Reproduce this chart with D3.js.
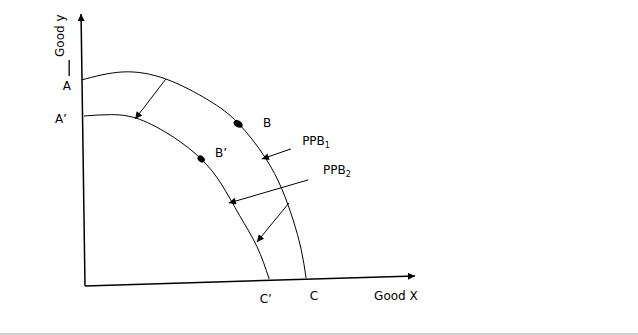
<!DOCTYPE html>
<html>
<head>
<meta charset="utf-8">
<script src="https://cdn.jsdelivr.net/npm/d3@7"></script>
<style>
  html, body { margin: 0; padding: 0; background: #fff; }
  svg { display: block; font-family: "DejaVu Sans", sans-serif; }
</style>
</head>
<body>
<svg id="chart"></svg>
<script>
// production possibility curves, in axis units (0..100 each way)
var ppb1 = [[-1.2,75.7],[11.5,78.7],[24.5,76.1],[37.3,68.4],[46.4,59.9],
            [54.5,47.4],[59.6,35.8],[63.0,24.5],[65.5,13.5],[67.0,2.9]];
var ppb2 = [[-0.3,62.5],[8.0,63.0],[16.5,61.3],[26.7,54.8],[35.2,46.7],[41.3,37.5],
            [46.8,26.0],[52.1,14.5],[55.8,2.6]];

// axes (slightly skewed, as drawn)
var yAxisPts = [[0,0],[-1.2,100]];
var xAxisPts = [[0,0],[100,3.7]];

// shift arrows and label pointers: [from, to]
var arrows = [
  [[24.5,76.1],[15.2,61.4]],
  [[62.4,50.4],[53.6,46.7]],
  [[67.6,39.0],[43.6,30.5]],
  [[61.8,30.5],[52.1,16.2]]
];

// points on the curves
var dots = [
  {name:'B', x:46.4, y:59.6, rx:5, ry:3.3, rot:30},
  {name:'B2', x:35.2, y:46.7, rx:4, ry:3, rot:40}
];

// labels
var labels = [
  {t:'A',      x:-5.5, y:72.1, anchor:'middle'},
  {t:'A\u2019', x:-7.3, y:59.9, anchor:'middle'},
  {t:'B',      x:55.2, y:58.5, anchor:'middle'},
  {t:'B\u2019', x:41.2, y:47.4, anchor:'middle'},
  {t:'C\u2019', x:54.8, y:-6.3, anchor:'middle'},
  {t:'C',      x:69.4, y:-5.1, anchor:'middle'},
  {t:'Good X', x:87.6, y:-5.1, anchor:'start'}
];
var ppbLabels = [
  {t:'PPB', sub:'1', x:65.8, y:51.8},
  {t:'PPB', sub:'2', x:72.1, y:41.2}
];

var W = 638, H = 335;
var svg = d3.select('#chart').attr('width', W).attr('height', H);

var x = d3.scaleLinear().domain([0,100]).range([85,415]);
var y = d3.scaleLinear().domain([0,100]).range([286,14]);

var defs = svg.append('defs');
defs.append('marker').attr('id','head')
  .attr('viewBox','0 0 10 10').attr('refX',10).attr('refY',5)
  .attr('markerWidth',10).attr('markerHeight',7).attr('markerUnits','userSpaceOnUse')
  .attr('orient','auto')
  .append('path').attr('d','M0,0 L10,5 L0,10 z').attr('fill','#000');

// bottom frame edge
svg.append('rect').attr('x',0).attr('y',333).attr('width',W).attr('height',2).attr('fill','#cfcfcf');

var straight = d3.line().x(function(d){return x(d[0]);}).y(function(d){return y(d[1]);});
var smooth = d3.line().x(function(d){return x(d[0]);}).y(function(d){return y(d[1]);})
  .curve(d3.curveNatural);

svg.selectAll('path.axis').data([yAxisPts, xAxisPts]).enter().append('path')
  .attr('class','axis')
  .attr('d', straight)
  .attr('fill','none').attr('stroke','#000').attr('stroke-width',1.5)
  .attr('marker-end','url(#head)');

svg.selectAll('path.ppb').data([ppb1, ppb2]).enter().append('path')
  .attr('class','ppb')
  .attr('d', smooth)
  .attr('fill','none').attr('stroke','#000').attr('stroke-width',1);

svg.selectAll('path.arrow').data(arrows).enter().append('path')
  .attr('class','arrow')
  .attr('d', straight)
  .attr('fill','none').attr('stroke','#000').attr('stroke-width',1)
  .attr('marker-end','url(#head)');

svg.selectAll('ellipse').data(dots).enter().append('ellipse')
  .attr('cx',0).attr('cy',0)
  .attr('rx',function(d){return d.rx;}).attr('ry',function(d){return d.ry;})
  .attr('transform',function(d){return 'translate('+x(d.x)+','+y(d.y)+') rotate('+d.rot+')';})
  .attr('fill','#000');

svg.selectAll('text.lbl').data(labels).enter().append('text')
  .attr('class','lbl')
  .attr('x',function(d){return x(d.x);}).attr('y',function(d){return y(d.y);})
  .attr('text-anchor',function(d){return d.anchor;})
  .attr('font-size',12).attr('fill','#000')
  .text(function(d){return d.t;});

var pl = svg.selectAll('text.ppbl').data(ppbLabels).enter().append('text')
  .attr('class','ppbl')
  .attr('x',function(d){return x(d.x);}).attr('y',function(d){return y(d.y);})
  .attr('font-size',12).attr('fill','#000');
pl.append('tspan').text(function(d){return d.t;});
pl.append('tspan').attr('dy',3).attr('font-size',8).text(function(d){return d.sub;});

// y-axis title, rotated, with the small dash under it
svg.append('text')
  .attr('transform','translate('+x(-6.5)+','+y(92)+') rotate(-90)')
  .attr('text-anchor','middle').attr('font-size',12).attr('fill','#000')
  .text('Good y');
svg.append('path').datum([[-4.8,83.1],[-4.8,77.2]])
  .attr('d', straight).attr('stroke','#000').attr('stroke-width',1.3);
</script>
</body>
</html>
